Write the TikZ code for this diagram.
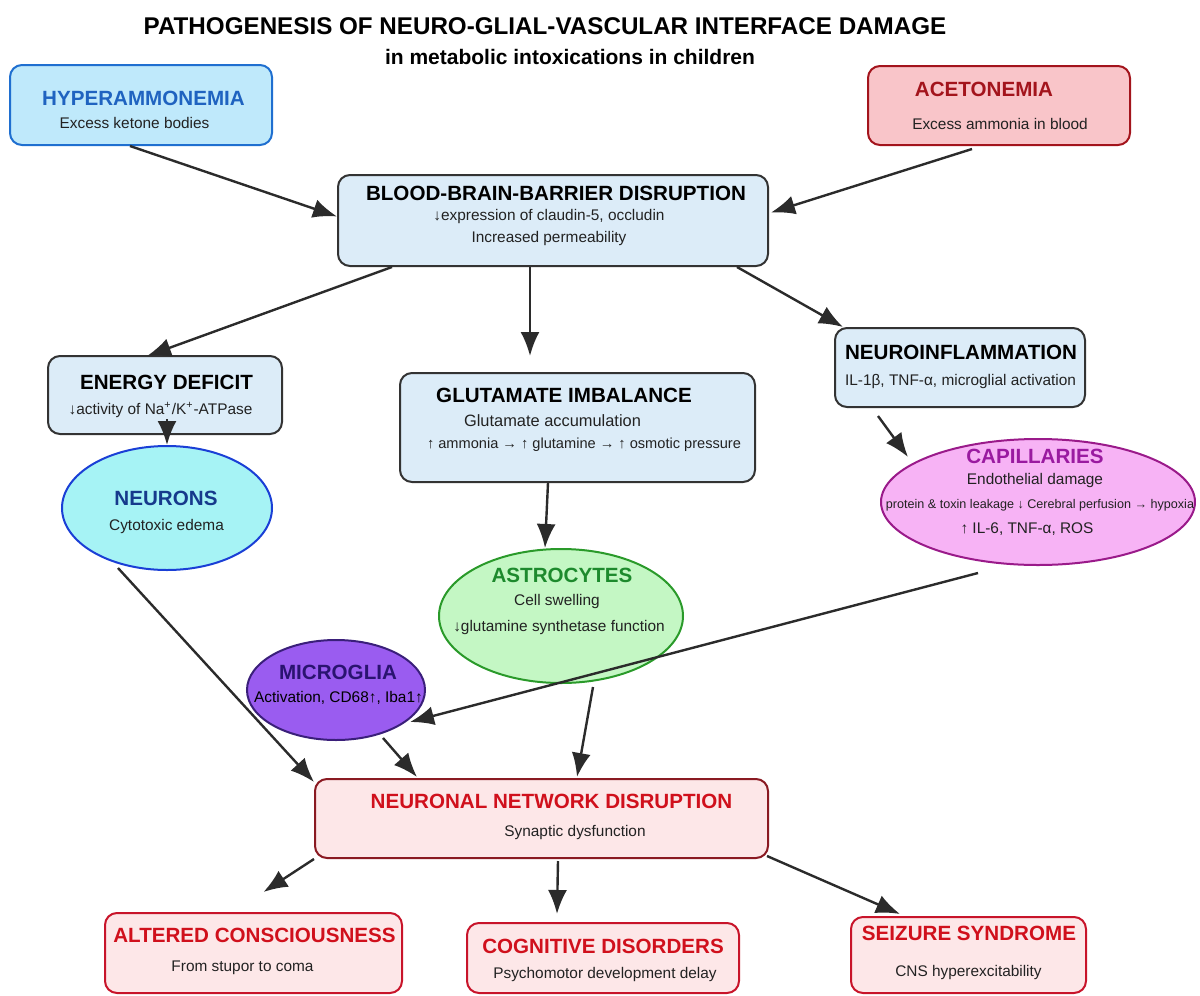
\documentclass[tikz,border=0pt]{standalone}
\usepackage{fontspec}
\setmainfont{Liberation Sans}
\usetikzlibrary{arrows.meta,calc,shapes.geometric}

\definecolor{txtgray}{HTML}{222222}
\definecolor{arrgray}{HTML}{2B2B2B}
\definecolor{hypfill}{HTML}{BFE9FB}
\definecolor{hypline}{HTML}{1F6FD0}
\definecolor{hyptext}{HTML}{1F63C0}
\definecolor{acefill}{HTML}{F9C5C9}
\definecolor{aceline}{HTML}{A3141C}
\definecolor{procfill}{HTML}{DCECF8}
\definecolor{procline}{HTML}{333333}
\definecolor{neufill}{HTML}{A6F3F5}
\definecolor{neuline}{HTML}{1A3FD6}
\definecolor{neutext}{HTML}{163A8C}
\definecolor{astfill}{HTML}{C4F7C4}
\definecolor{astline}{HTML}{2A9A2A}
\definecolor{asttext}{HTML}{1D8A2D}
\definecolor{micfill}{HTML}{9A5CF0}
\definecolor{micline}{HTML}{3A1F7A}
\definecolor{mictext}{HTML}{2A1370}
\definecolor{capfill}{HTML}{F7B3F5}
\definecolor{capline}{HTML}{9A1A8A}
\definecolor{captext}{HTML}{9A1AA0}
\definecolor{netfill}{HTML}{FDE7E8}
\definecolor{netline}{HTML}{8A1A22}
\definecolor{outline}{HTML}{C8142A}
\definecolor{redtext}{HTML}{D0101C}

\begin{document}
\begin{tikzpicture}[x=0.5pt,y=-0.5pt,
    box/.style={draw, rounded corners=6pt, line width=1pt, inner sep=0pt},
    blob/.style={ellipse, draw, line width=1pt, inner sep=0pt},
    ttl/.style={font=\fontsize{10.3}{12}\selectfont\bfseries, inner sep=0pt},
    sub/.style={font=\fontsize{7.7}{9}\selectfont, text=txtgray, inner sep=0pt},
    arr/.style={draw=arrgray, line width=1.2pt, -{Latex[length=12pt,width=9.5pt]}}]

    \useasboundingbox (0,0) rectangle (1200,996);

    \node[font=\fontsize{12.1}{14}\selectfont\bfseries, inner sep=0pt] (title) at (545,26)
        {PATHOGENESIS OF NEURO-GLIAL-VASCULAR INTERFACE DAMAGE};
    \node[font=\fontsize{10.5}{12}\selectfont\bfseries, inner sep=0pt] (subtitle) at (570,57)
        {in metabolic intoxications in children};

    % causes
    \node[box, fill=hypfill, draw=hypline, minimum width=131pt, minimum height=40pt] (hyper) at (141,105) {};
    \node[ttl, text=hyptext] (hyper-t) at (143.5,98) {HYPERAMMONEMIA};
    \node[sub] (hyper-s) at (134.5,123) {Excess ketone bodies};

    \node[box, fill=acefill, draw=aceline, minimum width=131pt, minimum height=39.5pt] (acet) at (999,105.5) {};
    \node[ttl, text=aceline] (acet-t) at (984,89) {ACETONEMIA};
    \node[sub] (acet-s) at (1000,124) {Excess ammonia in blood};

    % barrier
    \node[box, fill=procfill, draw=procline, minimum width=215pt, minimum height=45.5pt] (bbb) at (553,220.5) {};
    \node[ttl] (bbb-t) at (556,193) {BLOOD-BRAIN-BARRIER DISRUPTION};
    \node[sub] (bbb-s1) at (549,217) {↓expression of claudin-5, occludin};
    \node[sub] (bbb-s2) at (549,239) {Increased permeability};

    % mechanisms
    \node[box, fill=procfill, draw=procline, minimum width=117pt, minimum height=39pt] (energy) at (165,395) {};
    \node[ttl] (energy-t) at (166.5,382) {ENERGY DEFICIT};
    \node[sub] (energy-s) at (160.5,410) {↓activity of Na\textsuperscript{+}/K\textsuperscript{+}-ATPase};

    \node[box, fill=procfill, draw=procline, minimum width=177.5pt, minimum height=54.5pt] (glut) at (577.5,427.5) {};
    \node[ttl] (glut-t) at (564,395) {GLUTAMATE IMBALANCE};
    \node[sub, font=\fontsize{8.2}{10}\selectfont] (glut-s1) at (552.5,421) {Glutamate accumulation};
    \node[sub, font=\fontsize{7.3}{9}\selectfont] (glut-s2) at (584,445) {↑ ammonia → ↑ glutamine → ↑ osmotic pressure};

    \node[box, fill=procfill, draw=procline, minimum width=125pt, minimum height=39.5pt] (inflam) at (960,367.5) {};
    \node[ttl] (inflam-t) at (961,352) {NEUROINFLAMMATION};
    \node[sub] (inflam-s) at (960.5,382) {IL-1β, TNF-α, microglial activation};

    % cells
    \node[blob, fill=neufill, draw=neuline, minimum width=105pt, minimum height=62pt] (neurons) at (167,508) {};
    \node[ttl, text=neutext] (neurons-t) at (166,498) {NEURONS};
    \node[sub] (neurons-s) at (166.5,527) {Cytotoxic edema};

    \node[blob, fill=capfill, draw=capline, minimum width=157pt, minimum height=63pt] (capil) at (1038,502) {};
    \node[ttl, text=captext] (capil-t) at (1035,456) {CAPILLARIES};
    \node[sub] (capil-s1) at (1035,481) {Endothelial damage};
    \node[sub, font=\fontsize{6.3}{8}\selectfont] (capil-s2) at (1040,505) {protein \& toxin leakage ↓ Cerebral perfusion → hypoxia};
    \node[sub] (capil-s3) at (1027,529) {↑ IL-6, TNF-α, ROS};

    \node[blob, fill=astfill, draw=astline, minimum width=122pt, minimum height=67pt] (astro) at (561,616) {};
    \node[ttl, text=asttext] (astro-t) at (562,575) {ASTROCYTES};
    \node[sub] (astro-s1) at (557,602) {Cell swelling};
    \node[sub] (astro-s2) at (559,628) {↓glutamine synthetase function};

    \node[blob, fill=micfill, draw=micline, minimum width=89pt, minimum height=50pt] (micro) at (336,690) {};
    \node[ttl, text=mictext] (micro-t) at (338,672) {MICROGLIA};
    \node[sub, text=black] (micro-s) at (338.5,698) {Activation, CD68↑, Iba1↑};

    % network and outcomes
    \node[box, fill=netfill, draw=netline, minimum width=226.5pt, minimum height=39.5pt] (net) at (541.5,818.5) {};
    \node[ttl, text=redtext] (net-t) at (551.5,801) {NEURONAL NETWORK DISRUPTION};
    \node[sub] (net-s) at (575,833) {Synaptic dysfunction};

    \node[box, fill=netfill, draw=outline, minimum width=148.5pt, minimum height=40pt] (altered) at (253.5,953) {};
    \node[ttl, text=redtext] (altered-t) at (254.5,935) {ALTERED CONSCIOUSNESS};
    \node[sub] (altered-s) at (242.5,968) {From stupor to coma};

    \node[box, fill=netfill, draw=outline, minimum width=136pt, minimum height=35pt] (cognit) at (603,958) {};
    \node[ttl, text=redtext] (cognit-t) at (603,946) {COGNITIVE DISORDERS};
    \node[sub] (cognit-s) at (605,975) {Psychomotor development delay};

    \node[box, fill=netfill, draw=outline, minimum width=117.5pt, minimum height=38pt] (seizure) at (968.5,955) {};
    \node[ttl, text=redtext] (seizure-t) at (969,933) {SEIZURE SYNDROME};
    \node[sub] (seizure-s) at (968.5,973) {CNS hyperexcitability};

    % connectors
    \draw[arr] ($(hyper.south)+(-11,0)$) -- ($(bbb.west)+(0,-4)$);
    \draw[arr] ($(acet.south)+(-27,3)$) -- ($(bbb.east)+(2,-8)$);
    \draw[arr] ($(bbb.south)+(-161,0)$) -- ($(energy.north)+(-18,1)$);
    \draw[arr] ($(bbb.south)+(-23,0)$) -- ($(glut.north)+(-47.5,-16)$);
    \draw[arr] ($(bbb.south)+(184,0)$) -- ($(inflam.north)+(-117,0)$);
    \draw[arr] ($(energy.south)+(2,-16)$) -- (neurons.north);
    \draw[arr] ($(glut.south)+(-29.5,0)$) -- ($(astro.north)+(-16,0)$);
    \draw[arr] ($(inflam.south)+(-82,8)$) -- ($(capil.center)+(-130,-45)$);
    \draw[arr] ($(capil.center)+(-60,71)$) -- ($(micro.center)+(74,32)$);
    \draw[arr] ($(neurons.center)+(-49,60)$) -- ($(net.north west)+(0,4)$);
    \draw[arr] ($(micro.center)+(47,48)$) -- ($(net.north)+(-124.5,-1)$);
    \draw[arr] ($(astro.center)+(32,71)$) -- ($(net.north)+(35.5,-1)$);
    \draw[arr] (net.south west) -- ($(altered.north)+(10,-20)$);
    \draw[arr] ($(net.south)+(16.5,2)$) -- ($(cognit.north)+(-46,-8)$);
    \draw[arr] ($(net.south east)+(-2,-3)$) -- ($(seizure.north)+(-68.5,-2)$);
\end{tikzpicture}
\end{document}
